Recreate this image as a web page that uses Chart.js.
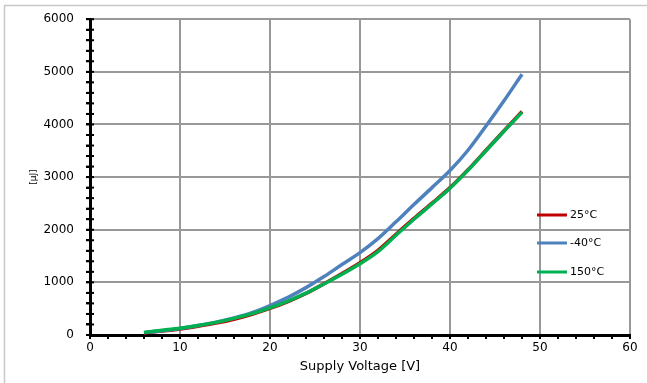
<!DOCTYPE html>
<html>
<head>
<meta charset="utf-8">
<script src="https://cdn.jsdelivr.net/npm/chart.js@4/dist/chart.umd.min.js"></script>
<style>
  html, body { margin: 0; padding: 0; background: #fff; }
  #wrap { width: 647px; height: 383px; }
</style>
</head>
<body>
<div id="wrap"><canvas id="chart" width="647" height="383"></canvas></div>
<script>
// Supply voltage [V]
const voltages = [6, 8, 10, 12, 14, 16, 18, 20, 22, 24, 26, 28, 30, 32, 34, 36, 38, 40, 42, 44, 46, 48];

// energy [µJ] per temperature
const temp25 = [40, 75, 115, 165, 225, 300, 395, 505, 635, 790, 975, 1170, 1375, 1610, 1915, 2215, 2505, 2800, 3140, 3510, 3880, 4245];
const tempMinus40 = [45, 80, 125, 180, 245, 325, 425, 560, 715, 900, 1110, 1340, 1565, 1830, 2150, 2480, 2800, 3125, 3510, 3970, 4450, 4955];
const temp150 = [50, 90, 130, 180, 240, 315, 405, 515, 645, 795, 970, 1155, 1355, 1585, 1895, 2200, 2490, 2790, 3130, 3500, 3870, 4230];

const seriesLabels = ["25°C", "-40°C", "150°C"];

const FONT = "'DejaVu Sans', sans-serif";

function toPoints(ys) {
    return voltages.map((v, i) => ({ x: v, y: ys[i] }));
}

// marco externo gris
const framePlugin = {
    id: "frame",
    beforeDraw(chart) {
        const c = chart.ctx;
        c.save();
        c.strokeStyle = "#c8c8c8";
        c.lineWidth = 1.5;
        c.strokeRect(4.5, 5.5, 700, 400);
        c.restore();
    }
};

// marcas de los ejes cruzando la línea del eje
const crossTicks = {
    id: "crossTicks",
    afterDraw(chart) {
        const c = chart.ctx;
        const { x, y } = chart.scales;
        c.save();
        c.strokeStyle = "#000";
        c.lineWidth = 2;
        y.ticks.forEach(t => {
            const py = y.getPixelForValue(t.value);
            c.beginPath();
            c.moveTo(x.left - 4, py);
            c.lineTo(x.left + 4, py);
            c.stroke();
        });
        x.ticks.forEach(t => {
            const px = x.getPixelForValue(t.value);
            c.beginPath();
            c.moveTo(px, y.bottom);
            c.lineTo(px, y.bottom + 4);
            c.stroke();
        });
        c.restore();
    }
};

// leyenda dentro del área del gráfico
const insideLegend = {
    id: "insideLegend",
    afterDatasetsDraw(chart) {
        const c = chart.ctx;
        const rows = [215, 243, 272];
        c.save();
        chart.data.datasets.forEach((ds, i) => {
            const y = rows[i];
            c.strokeStyle = ds.borderColor;
            c.lineWidth = 3;
            c.beginPath();
            c.moveTo(537, y);
            c.lineTo(567, y);
            c.stroke();
            c.fillStyle = "#000";
            c.font = "11px " + FONT;
            c.textBaseline = "middle";
            c.fillText(ds.label, 570, y + 0.5);
        });
        c.restore();
    }
};

new Chart(document.getElementById("chart"), {
    type: "line",
    data: {
        datasets: [
            { label: seriesLabels[0], data: toPoints(temp25), borderColor: "#c00000", order: 2 },
            { label: seriesLabels[1], data: toPoints(tempMinus40), borderColor: "#4f81bd", order: 1 },
            { label: seriesLabels[2], data: toPoints(temp150), borderColor: "#00b050", order: 0 }
        ].map(d => ({ ...d, borderWidth: 3.5, pointRadius: 0, fill: false, cubicInterpolationMode: "monotone" }))
    },
    options: {
        responsive: false,
        animation: false,
        layout: { padding: { top: 17, right: 17, left: 0, bottom: 0 } },
        plugins: { legend: { display: false }, tooltip: { enabled: false } },
        scales: {
            x: {
                type: "linear",
                min: 0,
                max: 60,
                afterFit: s => { s.height = 48; },
                ticks: {
                    stepSize: 2,
                    autoSkip: false,
                    maxRotation: 0,
                    padding: 2,
                    color: "#000",
                    font: { family: FONT, size: 12 },
                    callback: v => (v % 10 === 0 ? String(v) : "")
                },
                grid: {
                    color: ctx => (ctx.tick && ctx.tick.value % 10 === 0 ? "#989898" : "rgba(0,0,0,0)"),
                    lineWidth: 2,
                    tickColor: "#000",
                    tickLength: 4,
                    tickWidth: 2
                },
                border: { color: "#000", width: 3 },
                title: {
                    display: true,
                    text: "Supply Voltage [V]",
                    color: "#000",
                    font: { family: FONT, size: 13 },
                    padding: { top: 0, bottom: 9 }
                }
            },
            y: {
                min: 0,
                max: 6000,
                afterFit: s => { s.width = 90; },
                ticks: {
                    stepSize: 200,
                    autoSkip: false,
                    padding: 12,
                    color: "#000",
                    font: { family: FONT, size: 12 },
                    callback: v => (v % 1000 === 0 ? String(v) : "")
                },
                grid: {
                    color: ctx => (ctx.tick && ctx.tick.value % 1000 === 0 ? "#989898" : "rgba(0,0,0,0)"),
                    lineWidth: 2,
                    tickColor: "#000",
                    tickLength: 4,
                    tickWidth: 2
                },
                border: { color: "#000", width: 3 },
                title: {
                    display: true,
                    text: "[µJ]",
                    color: "#000",
                    font: { family: FONT, size: 9 },
                    padding: { top: 28, bottom: 0 }
                }
            }
        }
    },
    plugins: [framePlugin, crossTicks, insideLegend]
});
</script>
</body>
</html>
